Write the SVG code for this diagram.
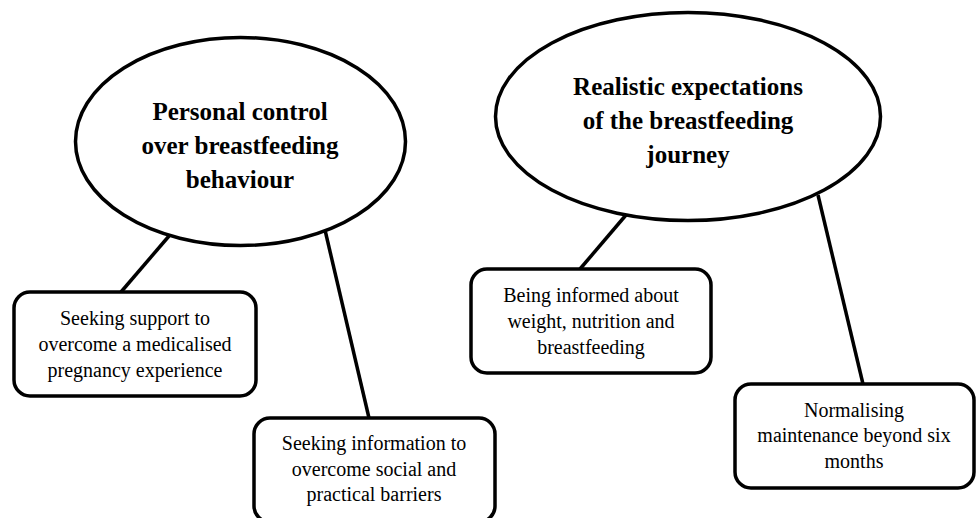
<svg xmlns="http://www.w3.org/2000/svg" width="976" height="518" viewBox="0 0 976 518">
<style>
.theme{fill:#fff;stroke:#000;stroke-width:3.5}
.box{fill:#fff;stroke:#000;stroke-width:3.5}
.conn{stroke:#000;stroke-width:3.5;fill:none}
.tt{font-family:"Liberation Serif","Times New Roman",serif;font-weight:bold;font-size:25px;fill:#000;text-anchor:middle}
.bt{font-family:"Liberation Serif","Times New Roman",serif;font-size:20px;fill:#000;text-anchor:middle}
</style>
<rect width="976" height="518" fill="#fff"/>
<g id="connectors">
<line class="conn" x1="169" y1="236" x2="121" y2="292"/>
<line class="conn" x1="325" y1="230" x2="369" y2="418"/>
<line class="conn" x1="626" y1="215" x2="580" y2="269"/>
<line class="conn" x1="818" y1="195" x2="863" y2="384"/>
</g>
<g id="theme1">
<ellipse class="theme" cx="240.5" cy="141.5" rx="165" ry="104"/>
<text class="tt" x="240" y="120">Personal control</text>
<text class="tt" x="240" y="154">over breastfeeding</text>
<text class="tt" x="240" y="188">behaviour</text>
</g>
<g id="theme2">
<ellipse class="theme" cx="688" cy="116.5" rx="192.5" ry="104"/>
<text class="tt" x="688" y="95">Realistic expectations</text>
<text class="tt" x="688" y="129">of the breastfeeding</text>
<text class="tt" x="688" y="163">journey</text>
</g>
<g id="sub1">
<rect class="box" x="14" y="292" width="242" height="104" rx="16"/>
<text class="bt" x="135" y="325">Seeking support to</text>
<text class="bt" x="135" y="351">overcome a medicalised</text>
<text class="bt" x="135" y="377">pregnancy experience</text>
</g>
<g id="sub2">
<rect class="box" x="254" y="418" width="241" height="104" rx="16"/>
<text class="bt" x="374" y="450">Seeking information to</text>
<text class="bt" x="374" y="476">overcome social and</text>
<text class="bt" x="374" y="501">practical barriers</text>
</g>
<g id="sub3">
<rect class="box" x="471" y="269" width="240" height="104" rx="16"/>
<text class="bt" x="591" y="302">Being informed about</text>
<text class="bt" x="591" y="328">weight, nutrition and</text>
<text class="bt" x="591" y="354">breastfeeding</text>
</g>
<g id="sub4">
<rect class="box" x="735" y="384" width="239" height="104" rx="16"/>
<text class="bt" x="854" y="417">Normalising</text>
<text class="bt" x="854" y="442">maintenance beyond six</text>
<text class="bt" x="854" y="468">months</text>
</g>
</svg>
